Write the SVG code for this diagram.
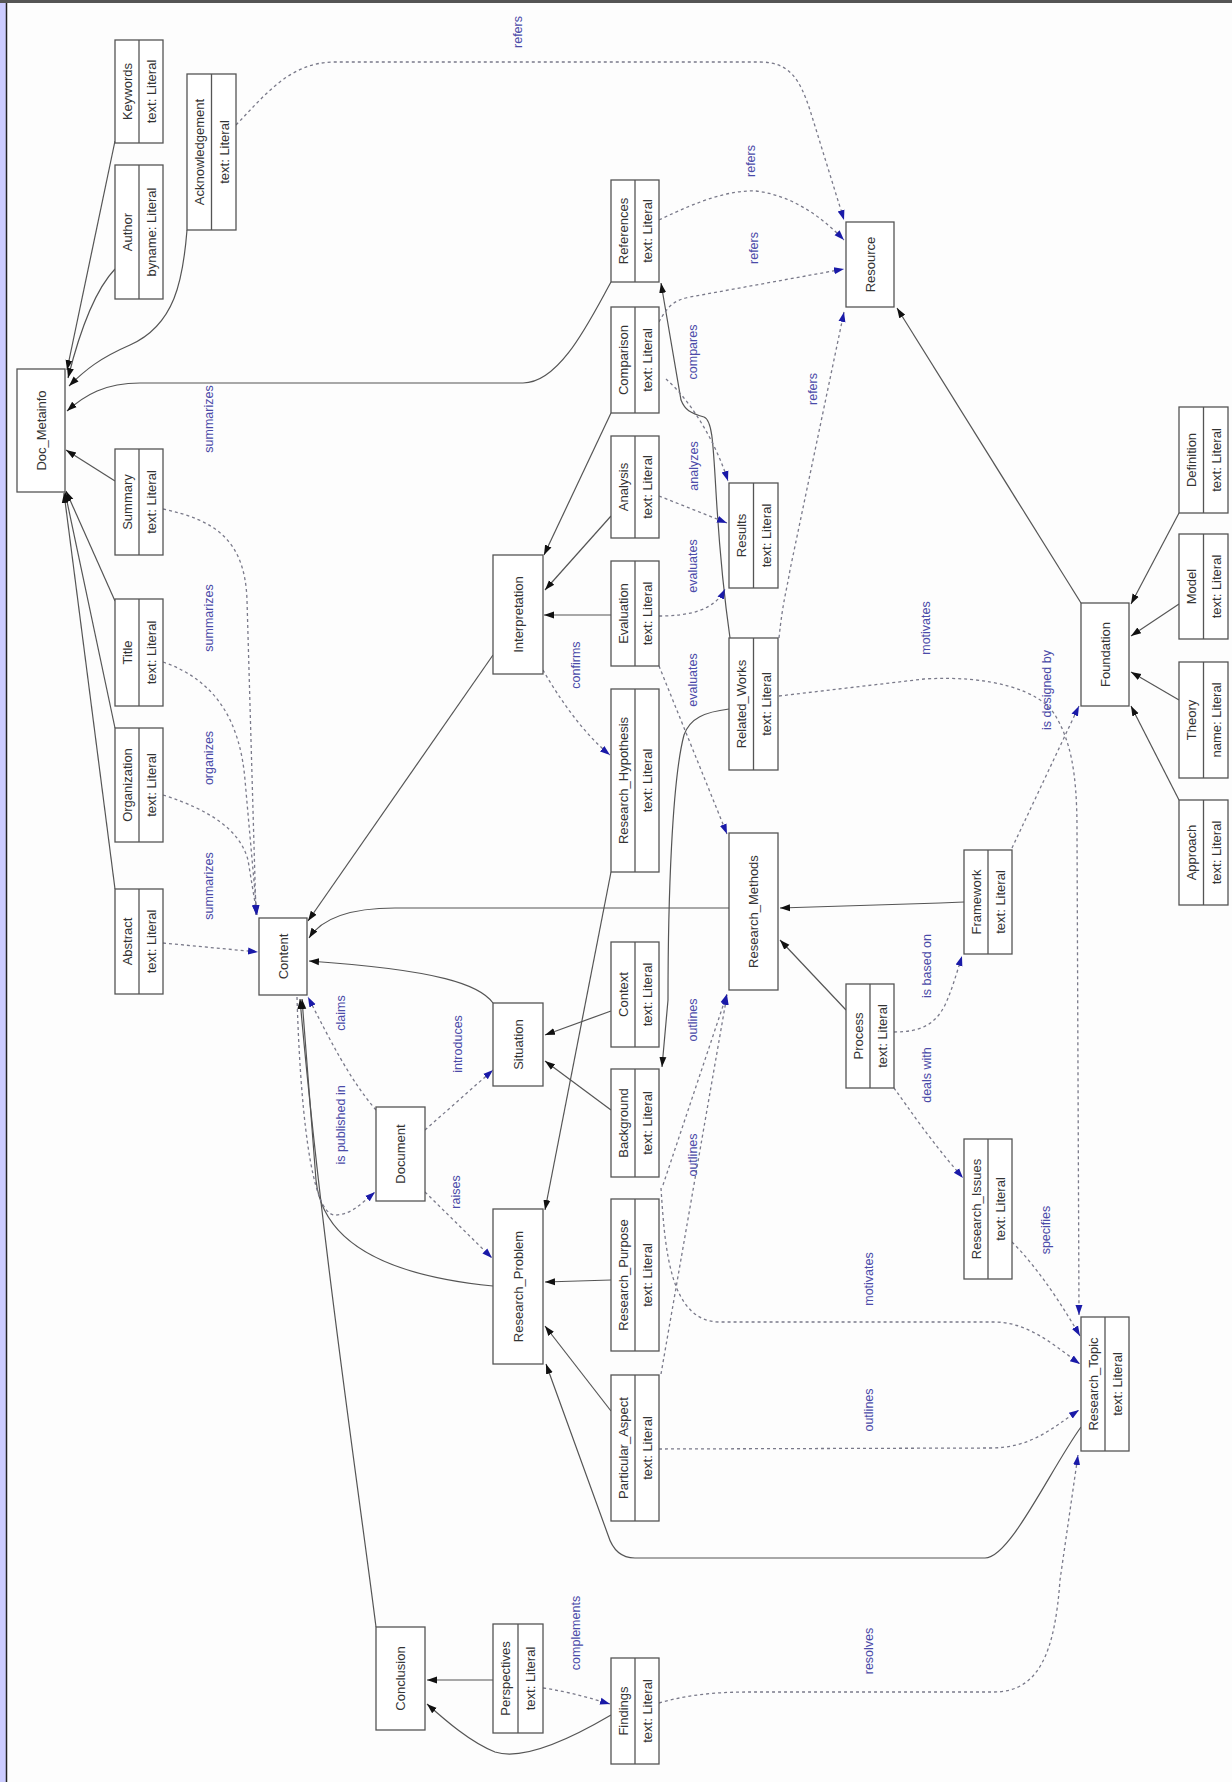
<svg xmlns="http://www.w3.org/2000/svg" width="1232" height="1782" viewBox="0 0 1232 1782">
<style>
.bx{fill:#fff;stroke:#555;stroke-width:1.3}
.dv{stroke:#555;stroke-width:1.3}
.nt{font-family:"Liberation Sans",Arial,sans-serif;font-size:13px;fill:#333;text-anchor:middle;dominant-baseline:central}
.el{font-family:"Liberation Sans",Arial,sans-serif;font-size:12.5px;fill:#4a4aa8;text-anchor:middle;dominant-baseline:central}
.s{fill:none;stroke:#555;stroke-width:1.2;marker-end:url(#ab)}
.d{fill:none;stroke:#7a7a8a;stroke-width:1.3;stroke-dasharray:3,3;marker-end:url(#ah)}
</style>
<defs>
<marker id="ab" viewBox="0 0 10 10" refX="10" refY="5" markerWidth="10" markerHeight="10" markerUnits="userSpaceOnUse" orient="auto"><path d="M0,1.5 L10,5 L0,8.5 z" fill="#111"/></marker>
<marker id="ah" viewBox="0 0 10 10" refX="10" refY="5" markerWidth="10" markerHeight="10" markerUnits="userSpaceOnUse" orient="auto"><path d="M0,1.5 L10,5 L0,8.5 z" fill="#1a1aa8"/></marker>
</defs>
<rect x="0" y="0" width="1232" height="1782" fill="#fdfdfd"/>
<rect x="0" y="0" width="6" height="1782" fill="#ccccff"/>
<line x1="6.5" y1="0" x2="6.5" y2="1782" stroke="#222" stroke-width="1.5"/>
<rect x="0" y="0" width="1232" height="3" fill="#555"/>

<g id="connectors">
<path class="s" d="M115,141 L67,370"/>
<path class="s" d="M115,269 C95,290 80,330 68,378"/>
<path class="s" d="M187,230 C183,280 175,325 130,345 C100,358 85,370 69,386"/>
<path class="s" d="M611,282 C590,320 560,383 523,383 L140,383 C105,383 85,395 67,411"/>
<path class="s" d="M115,481 L66,450"/>
<path class="s" d="M115,601 L66,491"/>
<path class="s" d="M115,728 L65,492"/>
<path class="s" d="M115,889 L64,493"/>
<path class="s" d="M611,413 L544,555"/>
<path class="s" d="M611,516 L545,590"/>
<path class="s" d="M611,615 L544,615"/>
<path class="s" d="M493,655 L308,921"/>
<path class="s" d="M729,908 L395,908 C350,908 322,918 309,938"/>
<path class="s" d="M493,1003 C480,985 440,970 309,961"/>
<path class="s" d="M611,1011 L545,1035"/>
<path class="s" d="M611,1110 L545,1061"/>
<path class="s" d="M611,872 L545,1210"/>
<path class="s" d="M611,1280 L545,1282"/>
<path class="s" d="M611,1411 L545,1326"/>
<path class="s" d="M1081,1427 C1050,1470 1010,1558 985,1558 L635,1558 C620,1558 612,1548 608,1535 L546,1364"/>
<path class="s" d="M493,1286 C380,1275 322,1240 316,1180 L302,999"/>
<path class="s" d="M376,1627 C360,1500 320,1230 300,999"/>
<path class="s" d="M493,1680 L427,1680"/>
<path class="s" d="M611,1715 C560,1745 520,1760 495,1752 C470,1742 445,1720 427,1704"/>
<path class="s" d="M730,638 C726,610 720,560 716,492 C713,440 712,420 704,417 C690,413 685,410 681,400 L661,283"/>
<path class="s" d="M729,709 C705,712 690,718 684,735 C672,780 668,900 668,1000 L662,1067"/>
<path class="s" d="M846,1010 L780,940"/>
<path class="s" d="M964,902 L940,903 L780,908"/>
<path class="s" d="M1081,603 L897,308"/>
<path class="s" d="M1179,513 L1131,604"/>
<path class="s" d="M1179,604 L1131,636"/>
<path class="s" d="M1179,700 L1131,672"/>
<path class="s" d="M1179,800 L1131,706"/>

<path class="d" d="M236,125 C265,95 290,62 335,62 L760,62 C790,62 800,80 810,110 L844,220"/>
<path class="d" d="M659,220 C700,200 730,190 756,191 C790,195 820,215 844,240"/>
<path class="d" d="M659,322 C668,305 675,300 690,297 L844,269"/>
<path class="d" d="M779,638 C783,600 786,594 790,570 L844,312"/>
<path class="d" d="M666,379 C690,400 715,440 728,481"/>
<path class="d" d="M659,496 L727,523"/>
<path class="d" d="M659,616 C690,616 715,610 725,589"/>
<path class="d" d="M659,666 L727,834"/>
<path class="d" d="M543,670 C560,700 585,735 610,755"/>
<path class="d" d="M163,509 C215,520 245,540 247,600 L256,915"/>
<path class="d" d="M163,662 C215,680 240,720 245,780 L257,915"/>
<path class="d" d="M163,795 C210,810 240,830 248,860 L257,915"/>
<path class="d" d="M163,943 L258,952"/>
<path class="d" d="M376,1110 C350,1080 330,1040 308,997"/>
<path class="d" d="M297,997 C300,1100 310,1215 335,1215 C350,1215 360,1205 375,1192"/>
<path class="d" d="M425,1130 L493,1070"/>
<path class="d" d="M425,1192 L492,1258"/>
<path class="d" d="M543,1688 C570,1692 590,1698 610,1704"/>
<path class="d" d="M659,1703 C690,1694 720,1692 750,1692 L994,1692 C1040,1692 1055,1650 1060,1580 L1078,1455"/>
<path class="d" d="M659,1449 L990,1448 C1030,1448 1050,1430 1079,1410"/>
<path class="d" d="M661,1188 C665,1250 670,1322 720,1322 L995,1322 C1030,1322 1060,1350 1080,1364"/>
<path class="d" d="M661,1374 L727,995"/>
<path class="d" d="M663,1185 L727,994"/>
<path class="d" d="M779,696 L924,679 C990,675 1040,690 1055,715 C1070,740 1077,770 1077,830 L1079,1315"/>
<path class="d" d="M1012,848 L1079,706"/>
<path class="d" d="M894,1032 C920,1032 935,1025 945,1005 C952,990 956,975 962,956"/>
<path class="d" d="M894,1088 C910,1110 930,1140 963,1178"/>
<path class="d" d="M1012,1242 C1040,1270 1065,1310 1080,1336"/>

<text class="el" x="518" y="32" transform="rotate(-90 518 32)">refers</text>
<text class="el" x="751" y="161" transform="rotate(-90 751 161)">refers</text>
<text class="el" x="754" y="248" transform="rotate(-90 754 248)">refers</text>
<text class="el" x="813" y="389" transform="rotate(-90 813 389)">refers</text>
<text class="el" x="693" y="352" transform="rotate(-90 693 352)">compares</text>
<text class="el" x="694" y="466" transform="rotate(-90 694 466)">analyzes</text>
<text class="el" x="693" y="566" transform="rotate(-90 693 566)">evaluates</text>
<text class="el" x="693" y="680" transform="rotate(-90 693 680)">evaluates</text>
<text class="el" x="209" y="419" transform="rotate(-90 209 419)">summarizes</text>
<text class="el" x="209" y="618" transform="rotate(-90 209 618)">summarizes</text>
<text class="el" x="209" y="758" transform="rotate(-90 209 758)">organizes</text>
<text class="el" x="209" y="886" transform="rotate(-90 209 886)">summarizes</text>
<text class="el" x="576" y="665" transform="rotate(-90 576 665)">confirms</text>
<text class="el" x="341" y="1013" transform="rotate(-90 341 1013)">claims</text>
<text class="el" x="458" y="1044" transform="rotate(-90 458 1044)">introduces</text>
<text class="el" x="341" y="1125" transform="rotate(-90 341 1125)">is published in</text>
<text class="el" x="456" y="1192" transform="rotate(-90 456 1192)">raises</text>
<text class="el" x="693" y="1020" transform="rotate(-90 693 1020)">outlines</text>
<text class="el" x="693" y="1155" transform="rotate(-90 693 1155)">outlines</text>
<text class="el" x="926" y="628" transform="rotate(-90 926 628)">motivates</text>
<text class="el" x="1047" y="690" transform="rotate(-90 1047 690)">is designed by</text>
<text class="el" x="927" y="966" transform="rotate(-90 927 966)">is based on</text>
<text class="el" x="927" y="1075" transform="rotate(-90 927 1075)">deals with</text>
<text class="el" x="1046" y="1230" transform="rotate(-90 1046 1230)">specifies</text>
<text class="el" x="869" y="1279" transform="rotate(-90 869 1279)">motivates</text>
<text class="el" x="869" y="1410" transform="rotate(-90 869 1410)">outlines</text>
<text class="el" x="869" y="1651" transform="rotate(-90 869 1651)">resolves</text>
<text class="el" x="576" y="1633" transform="rotate(-90 576 1633)">complements</text>
</g>

<g id="Doc_Metainfo"><rect class="bx" x="17" y="369" width="48" height="123"/><text class="nt" x="41" y="430.5" transform="rotate(-90 41 430.5)">Doc_Metainfo</text></g>
<g id="Keywords"><rect class="bx" x="115" y="40" width="48" height="103"/><line class="dv" x1="139" y1="40" x2="139" y2="143"/><text class="nt" x="127" y="91.5" transform="rotate(-90 127 91.5)">Keywords</text><text class="nt" x="151" y="91.5" transform="rotate(-90 151 91.5)">text: Literal</text></g>
<g id="Author"><rect class="bx" x="115" y="165" width="48" height="134"/><line class="dv" x1="139" y1="165" x2="139" y2="299"/><text class="nt" x="127" y="232" transform="rotate(-90 127 232)">Author</text><text class="nt" x="151" y="232" transform="rotate(-90 151 232)">byname: Literal</text></g>
<g id="Acknowledgement"><rect class="bx" x="187" y="74" width="49" height="156"/><line class="dv" x1="211.5" y1="74" x2="211.5" y2="230"/><text class="nt" x="199" y="152" transform="rotate(-90 199 152)">Acknowledgement</text><text class="nt" x="224" y="152" transform="rotate(-90 224 152)">text: Literal</text></g>
<g id="Summary"><rect class="bx" x="115" y="449" width="48" height="106"/><line class="dv" x1="139" y1="449" x2="139" y2="555"/><text class="nt" x="127" y="502" transform="rotate(-90 127 502)">Summary</text><text class="nt" x="151" y="502" transform="rotate(-90 151 502)">text: Literal</text></g>
<g id="Title"><rect class="bx" x="115" y="599" width="48" height="107"/><line class="dv" x1="139" y1="599" x2="139" y2="706"/><text class="nt" x="127" y="652.5" transform="rotate(-90 127 652.5)">Title</text><text class="nt" x="151" y="652.5" transform="rotate(-90 151 652.5)">text: Literal</text></g>
<g id="Organization"><rect class="bx" x="115" y="728" width="48" height="114"/><line class="dv" x1="139" y1="728" x2="139" y2="842"/><text class="nt" x="127" y="785" transform="rotate(-90 127 785)">Organization</text><text class="nt" x="151" y="785" transform="rotate(-90 151 785)">text: Literal</text></g>
<g id="Abstract"><rect class="bx" x="115" y="889" width="48" height="105"/><line class="dv" x1="139" y1="889" x2="139" y2="994"/><text class="nt" x="127" y="941.5" transform="rotate(-90 127 941.5)">Abstract</text><text class="nt" x="151" y="941.5" transform="rotate(-90 151 941.5)">text: Literal</text></g>
<g id="Content"><rect class="bx" x="259" y="918" width="48" height="77"/><text class="nt" x="283" y="956.5" transform="rotate(-90 283 956.5)">Content</text></g>
<g id="Interpretation"><rect class="bx" x="493" y="555" width="50" height="119"/><text class="nt" x="518" y="614.5" transform="rotate(-90 518 614.5)">Interpretation</text></g>
<g id="Situation"><rect class="bx" x="493" y="1003" width="50" height="83"/><text class="nt" x="518" y="1044.5" transform="rotate(-90 518 1044.5)">Situation</text></g>
<g id="Document"><rect class="bx" x="376" y="1107" width="49" height="94"/><text class="nt" x="400.5" y="1154" transform="rotate(-90 400.5 1154)">Document</text></g>
<g id="Research_Problem"><rect class="bx" x="493" y="1209" width="50" height="155"/><text class="nt" x="518" y="1286.5" transform="rotate(-90 518 1286.5)">Research_Problem</text></g>
<g id="Conclusion"><rect class="bx" x="376" y="1627" width="49" height="103"/><text class="nt" x="400.5" y="1678.5" transform="rotate(-90 400.5 1678.5)">Conclusion</text></g>
<g id="Perspectives"><rect class="bx" x="493" y="1624" width="50" height="109"/><line class="dv" x1="518" y1="1624" x2="518" y2="1733"/><text class="nt" x="505.5" y="1678.5" transform="rotate(-90 505.5 1678.5)">Perspectives</text><text class="nt" x="530.5" y="1678.5" transform="rotate(-90 530.5 1678.5)">text: Literal</text></g>
<g id="References"><rect class="bx" x="611" y="180" width="48" height="102"/><line class="dv" x1="635" y1="180" x2="635" y2="282"/><text class="nt" x="623" y="231" transform="rotate(-90 623 231)">References</text><text class="nt" x="647" y="231" transform="rotate(-90 647 231)">text: Literal</text></g>
<g id="Comparison"><rect class="bx" x="611" y="307" width="48" height="106"/><line class="dv" x1="635" y1="307" x2="635" y2="413"/><text class="nt" x="623" y="360" transform="rotate(-90 623 360)">Comparison</text><text class="nt" x="647" y="360" transform="rotate(-90 647 360)">text: Literal</text></g>
<g id="Analysis"><rect class="bx" x="611" y="436" width="48" height="102"/><line class="dv" x1="635" y1="436" x2="635" y2="538"/><text class="nt" x="623" y="487" transform="rotate(-90 623 487)">Analysis</text><text class="nt" x="647" y="487" transform="rotate(-90 647 487)">text: Literal</text></g>
<g id="Evaluation"><rect class="bx" x="611" y="561" width="48" height="105"/><line class="dv" x1="635" y1="561" x2="635" y2="666"/><text class="nt" x="623" y="613.5" transform="rotate(-90 623 613.5)">Evaluation</text><text class="nt" x="647" y="613.5" transform="rotate(-90 647 613.5)">text: Literal</text></g>
<g id="Research_Hypothesis"><rect class="bx" x="611" y="689" width="48" height="183"/><line class="dv" x1="635" y1="689" x2="635" y2="872"/><text class="nt" x="623" y="780.5" transform="rotate(-90 623 780.5)">Research_Hypothesis</text><text class="nt" x="647" y="780.5" transform="rotate(-90 647 780.5)">text: Literal</text></g>
<g id="Context"><rect class="bx" x="611" y="942" width="48" height="105"/><line class="dv" x1="635" y1="942" x2="635" y2="1047"/><text class="nt" x="623" y="994.5" transform="rotate(-90 623 994.5)">Context</text><text class="nt" x="647" y="994.5" transform="rotate(-90 647 994.5)">text: Literal</text></g>
<g id="Background"><rect class="bx" x="611" y="1069" width="48" height="108"/><line class="dv" x1="635" y1="1069" x2="635" y2="1177"/><text class="nt" x="623" y="1123" transform="rotate(-90 623 1123)">Background</text><text class="nt" x="647" y="1123" transform="rotate(-90 647 1123)">text: Literal</text></g>
<g id="Research_Purpose"><rect class="bx" x="611" y="1199" width="48" height="152"/><line class="dv" x1="635" y1="1199" x2="635" y2="1351"/><text class="nt" x="623" y="1275" transform="rotate(-90 623 1275)">Research_Purpose</text><text class="nt" x="647" y="1275" transform="rotate(-90 647 1275)">text: Literal</text></g>
<g id="Particular_Aspect"><rect class="bx" x="611" y="1375" width="48" height="146"/><line class="dv" x1="635" y1="1375" x2="635" y2="1521"/><text class="nt" x="623" y="1448" transform="rotate(-90 623 1448)">Particular_Aspect</text><text class="nt" x="647" y="1448" transform="rotate(-90 647 1448)">text: Literal</text></g>
<g id="Findings"><rect class="bx" x="611" y="1658" width="48" height="106"/><line class="dv" x1="635" y1="1658" x2="635" y2="1764"/><text class="nt" x="623" y="1711" transform="rotate(-90 623 1711)">Findings</text><text class="nt" x="647" y="1711" transform="rotate(-90 647 1711)">text: Literal</text></g>
<g id="Results"><rect class="bx" x="729" y="483" width="49" height="105"/><line class="dv" x1="753.5" y1="483" x2="753.5" y2="588"/><text class="nt" x="741" y="535.5" transform="rotate(-90 741 535.5)">Results</text><text class="nt" x="766" y="535.5" transform="rotate(-90 766 535.5)">text: Literal</text></g>
<g id="Related_Works"><rect class="bx" x="729" y="638" width="49" height="132"/><line class="dv" x1="753.5" y1="638" x2="753.5" y2="770"/><text class="nt" x="741" y="704" transform="rotate(-90 741 704)">Related_Works</text><text class="nt" x="766" y="704" transform="rotate(-90 766 704)">text: Literal</text></g>
<g id="Research_Methods"><rect class="bx" x="729" y="833" width="49" height="157"/><text class="nt" x="753.5" y="911.5" transform="rotate(-90 753.5 911.5)">Research_Methods</text></g>
<g id="Resource"><rect class="bx" x="846" y="222" width="48" height="85"/><text class="nt" x="870" y="264.5" transform="rotate(-90 870 264.5)">Resource</text></g>
<g id="Process"><rect class="bx" x="846" y="984" width="48" height="104"/><line class="dv" x1="870" y1="984" x2="870" y2="1088"/><text class="nt" x="858" y="1036" transform="rotate(-90 858 1036)">Process</text><text class="nt" x="882" y="1036" transform="rotate(-90 882 1036)">text: Literal</text></g>
<g id="Framework"><rect class="bx" x="964" y="850" width="48" height="104"/><line class="dv" x1="988" y1="850" x2="988" y2="954"/><text class="nt" x="976" y="902" transform="rotate(-90 976 902)">Framework</text><text class="nt" x="1000" y="902" transform="rotate(-90 1000 902)">text: Literal</text></g>
<g id="Research_Issues"><rect class="bx" x="964" y="1139" width="48" height="140"/><line class="dv" x1="988" y1="1139" x2="988" y2="1279"/><text class="nt" x="976" y="1209" transform="rotate(-90 976 1209)">Research_Issues</text><text class="nt" x="1000" y="1209" transform="rotate(-90 1000 1209)">text: Literal</text></g>
<g id="Foundation"><rect class="bx" x="1081" y="603" width="48" height="103"/><text class="nt" x="1105" y="654.5" transform="rotate(-90 1105 654.5)">Foundation</text></g>
<g id="Research_Topic"><rect class="bx" x="1081" y="1317" width="48" height="134"/><line class="dv" x1="1105" y1="1317" x2="1105" y2="1451"/><text class="nt" x="1093" y="1384" transform="rotate(-90 1093 1384)">Research_Topic</text><text class="nt" x="1117" y="1384" transform="rotate(-90 1117 1384)">text: Literal</text></g>
<g id="Definition"><rect class="bx" x="1179" y="407" width="49" height="106"/><line class="dv" x1="1203.5" y1="407" x2="1203.5" y2="513"/><text class="nt" x="1191" y="460" transform="rotate(-90 1191 460)">Definition</text><text class="nt" x="1216" y="460" transform="rotate(-90 1216 460)">text: Literal</text></g>
<g id="Model"><rect class="bx" x="1179" y="534" width="49" height="105"/><line class="dv" x1="1203.5" y1="534" x2="1203.5" y2="639"/><text class="nt" x="1191" y="586.5" transform="rotate(-90 1191 586.5)">Model</text><text class="nt" x="1216" y="586.5" transform="rotate(-90 1216 586.5)">text: Literal</text></g>
<g id="Theory"><rect class="bx" x="1179" y="662" width="49" height="116"/><line class="dv" x1="1203.5" y1="662" x2="1203.5" y2="778"/><text class="nt" x="1191" y="720" transform="rotate(-90 1191 720)">Theory</text><text class="nt" x="1216" y="720" transform="rotate(-90 1216 720)">name: Literal</text></g>
<g id="Approach"><rect class="bx" x="1179" y="800" width="49" height="105"/><line class="dv" x1="1203.5" y1="800" x2="1203.5" y2="905"/><text class="nt" x="1191" y="852.5" transform="rotate(-90 1191 852.5)">Approach</text><text class="nt" x="1216" y="852.5" transform="rotate(-90 1216 852.5)">text: Literal</text></g>
</svg>
